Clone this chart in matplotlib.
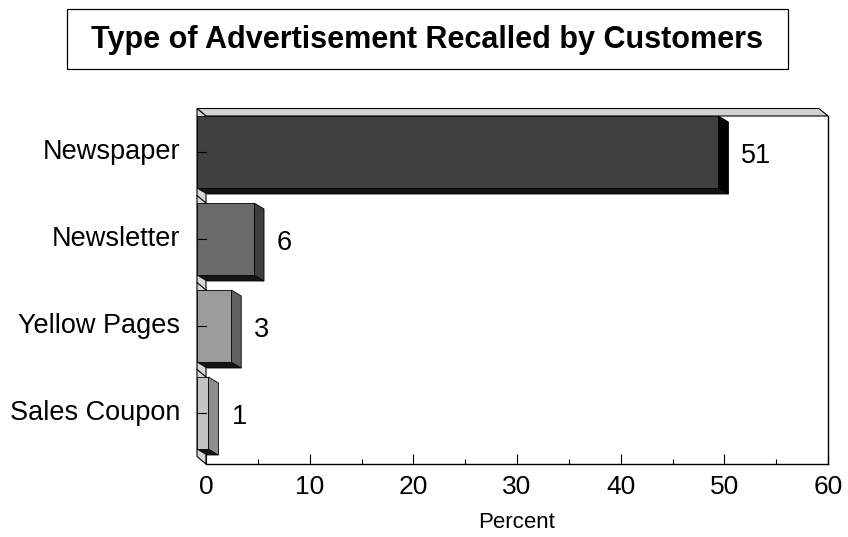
import numpy as np
import matplotlib
matplotlib.use('Agg')
import matplotlib.pyplot as plt
from matplotlib.patches import Polygon, Rectangle

plt.rcParams['font.family'] = ['Liberation Sans', 'DejaVu Sans']

# data
categories = ['Newspaper', 'Newsletter', 'Yellow Pages', 'Sales Coupon']
bar_len = [50.3, 5.5, 3.3, 1.1]          # drawn length of each bar (percent)
value_labels = ['51', '6', '3', '1']      # printed values
face_col = ['#404040', '#6a6a6a', '#9c9c9c', '#c4c4c4']
side_col = ['#000000', '#3e3e3e', '#626262', '#8e8e8e']
title = 'Type of Advertisement Recalled by Customers'

W, H, DPI = 848, 537, 100
fig = plt.figure(figsize=(W / DPI, H / DPI), dpi=DPI)

# front plane of the 3-D box
L, R, T, B = 206, 828, 116, 464
ax = fig.add_axes([L / W, 1 - B / H, (R - L) / W, (B - T) / H])
ax.set_xlim(0, 60)
ax.set_ylim(0, 4)
ax.patch.set_visible(False)

px_x = (R - L) / 60.0     # pixels per percent
px_y = (B - T) / 4.0      # pixels per category
wdx, wdy = 9 / px_x, 7.5 / px_y      # depth of the box (back plane offset)
bdx, bdy = 10 / px_x, -6 / px_y      # depth of the bars
bh = 72 / px_y                        # bar height

# back wall / top strip / floor
ax.add_patch(Polygon([(-wdx, wdy), (60 - wdx, wdy), (60, 0), (0, 0)],
                     closed=True, fc='white', ec='none', clip_on=False, zorder=0))
ax.add_patch(Polygon([(-wdx, 4 + wdy), (60 - wdx, 4 + wdy), (60, 4), (0, 4)],
                     closed=True, fc='#d2d2d2', ec='black', lw=0.8, clip_on=False, zorder=1))
ax.add_patch(Polygon([(-wdx, wdy), (-wdx, 4 + wdy), (0, 4), (0, 0)],
                     closed=True, fc='#d6d6d6', ec='black', lw=0.8, clip_on=False, zorder=1))
for yb in [1, 2, 3]:
    ax.plot([-wdx, 0], [yb + wdy, yb], color='black', lw=0.8, clip_on=False, zorder=1.5)

centers = np.arange(len(categories))[::-1] + 0.5
for i, (c, v) in enumerate(zip(centers, bar_len)):
    x0 = -wdx
    x1 = v - wdx
    y0 = c - bh / 2 + wdy
    y1 = c + bh / 2 + wdy
    # bottom face
    ax.add_patch(Polygon([(x0, y0), (x1, y0), (x1 + bdx, y0 + bdy), (x0 + bdx, y0 + bdy)],
                         closed=True, fc='#151515', ec='black', lw=0.6, clip_on=False, zorder=2))
    # end face
    ax.add_patch(Polygon([(x1, y1), (x1 + bdx, y1 + bdy), (x1 + bdx, y0 + bdy), (x1, y0)],
                         closed=True, fc=side_col[i], ec='black', lw=0.6, clip_on=False, zorder=2))
    # main face
    ax.add_patch(Polygon([(x0, y0), (x1, y0), (x1, y1), (x0, y1)],
                         closed=True, fc=face_col[i], ec='black', lw=0.6, clip_on=False, zorder=3))
    # tick on the wall
    ax.plot([-wdx, 0], [c + wdy, c + wdy], color='black', lw=0.8, clip_on=False, zorder=4)
    # value label
    ax.text(x1 + bdx + 13 / px_x, c + wdy - 4 / px_y, value_labels[i],
            ha='left', va='center', fontsize=19.5)
    # category label
    ax.text(-26 / px_x, c + wdy, categories[i], ha='right', va='center', fontsize=19.5)

for s in ['left', 'top']:
    ax.spines[s].set_visible(False)
ax.spines['bottom'].set_linewidth(1.0)
ax.spines['right'].set_linewidth(1.0)
ax.set_yticks([])
ax.set_xticks(np.arange(0, 61, 10))
ax.set_xticks(np.arange(5, 60, 10), minor=True)
ax.tick_params(axis='x', which='major', direction='in', length=7, width=0.8,
               labelsize=19, pad=8)
ax.tick_params(axis='x', which='minor', direction='in', length=3.5, width=0.8)
ax.set_xlabel('Percent', fontsize=16, labelpad=9)

# title in a box
fig.add_artist(Rectangle((67 / W, 1 - 69 / H), (788 - 67) / W, 60 / H,
                         transform=fig.transFigure, fc='white', ec='black', lw=0.9))
fig.text(427 / W, 1 - 40 / H, title, ha='center', va='center',
         fontsize=22, fontweight='bold')

fig.savefig('out.png', dpi=DPI)
